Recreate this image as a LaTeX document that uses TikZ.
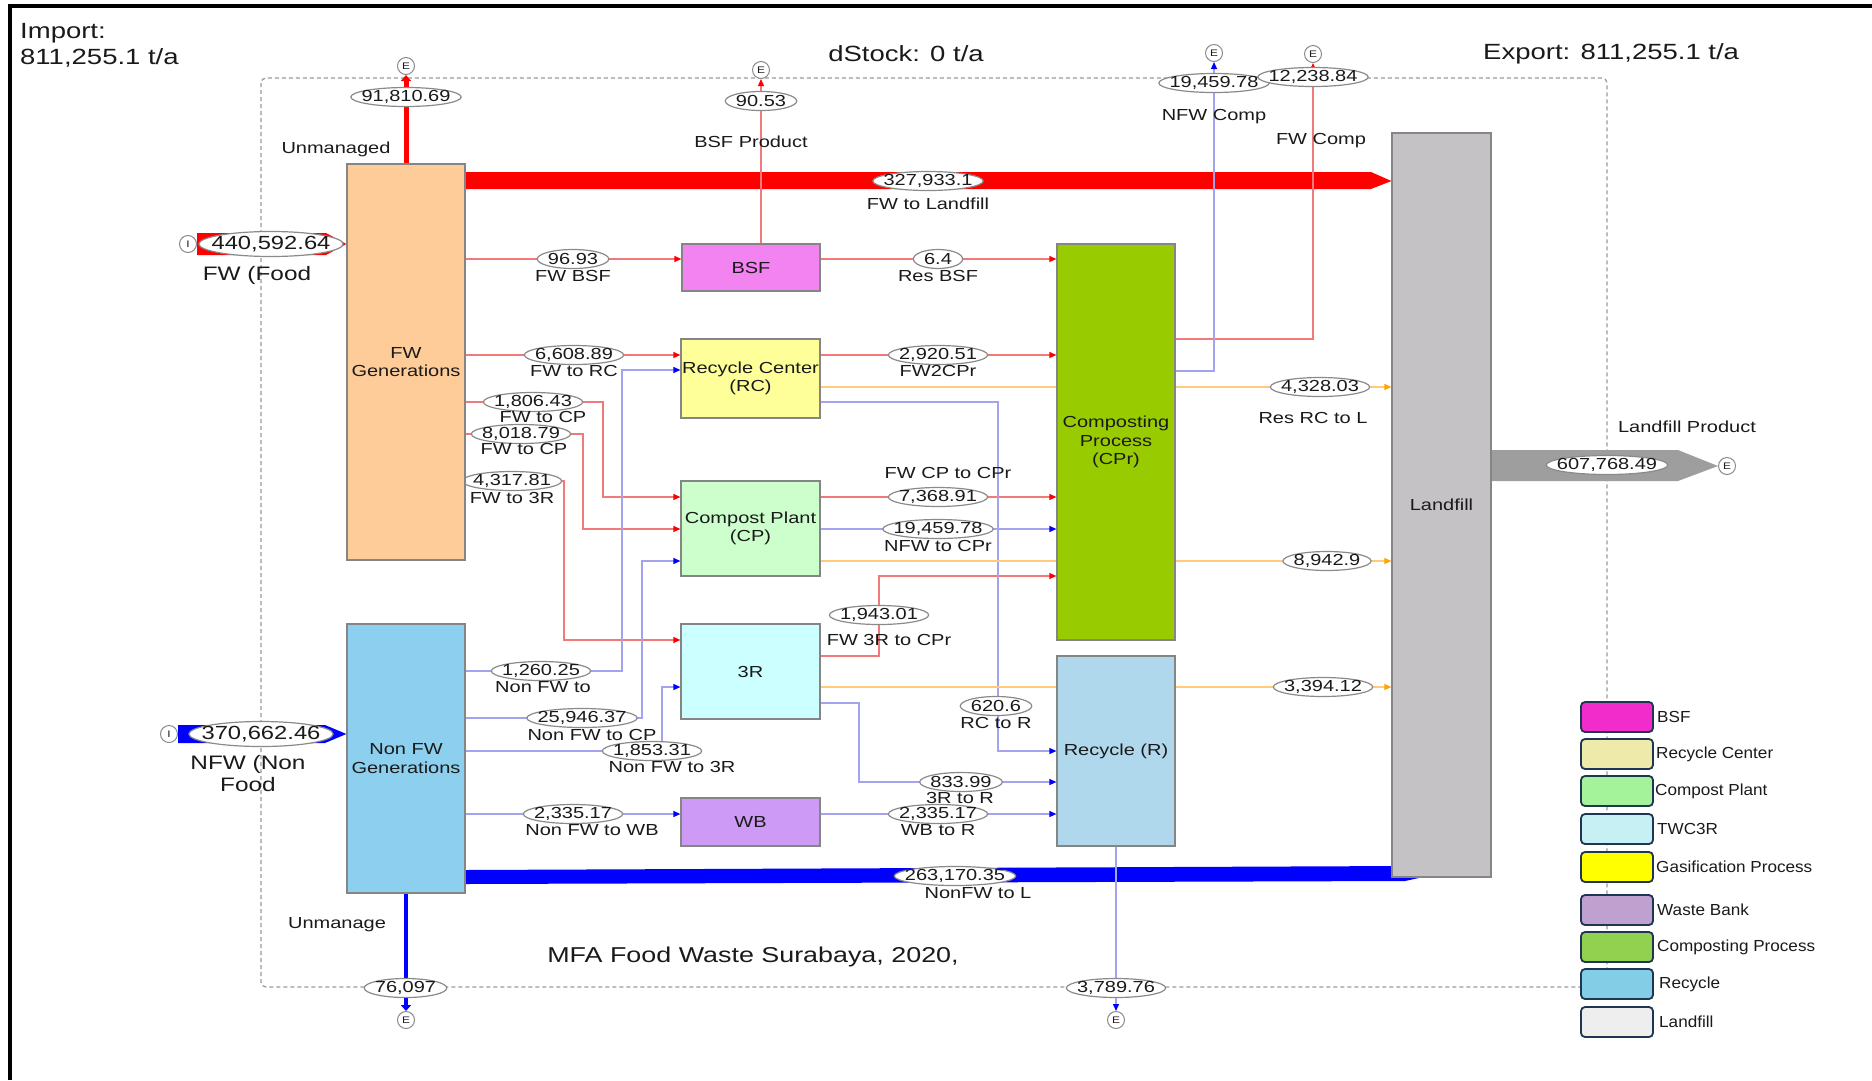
\documentclass[tikz,border=0pt]{standalone}
\usepackage{fontspec}
\setmainfont{Liberation Sans}[FakeStretch=1.25]
\newfontfamily\legfont{Liberation Sans}[FakeStretch=1.07]
\usetikzlibrary{arrows.meta,shapes.geometric,calc,backgrounds}
\pgfdeclarelayer{background}
\pgfdeclarelayer{ell}
\pgfsetlayers{background,ell,main}
\definecolor{txt}{HTML}{1A1A1A}
\definecolor{boxgray}{HTML}{858585}
\definecolor{ellgray}{HTML}{8A8A8A}
\definecolor{thinred}{HTML}{F07A7A}
\definecolor{thinblue}{HTML}{A3A3EE}
\definecolor{thinorange}{HTML}{FFCB7A}
\definecolor{orangetip}{HTML}{FFA500}
\definecolor{cfw}{HTML}{FECC99}
\definecolor{cnfw}{HTML}{8CCFEF}
\definecolor{cbsf}{HTML}{F383F0}
\definecolor{crc}{HTML}{FFFF99}
\definecolor{ccp}{HTML}{CCFFCC}
\definecolor{ctr}{HTML}{CCFFFF}
\definecolor{cwb}{HTML}{CD9BF5}
\definecolor{ccpr}{HTML}{99CC00}
\definecolor{crec}{HTML}{B0D8EC}
\definecolor{clf}{HTML}{C4C2C5}
\definecolor{cprod}{HTML}{9E9E9E}
\definecolor{bnd}{HTML}{9A9A9A}
\definecolor{legborder}{HTML}{1F3554}
\newcommand\boxfont{\fontsize{16}{18.5}\selectfont}
\newcommand\valfont{\fontsize{16}{18}\selectfont}
\newcommand\bigvalfont{\fontsize{19}{22}\selectfont}
\newcommand\lblfont{\fontsize{16}{18}\selectfont}
\newcommand\circfont{\fontsize{9.5}{10}\selectfont}
\newcommand\headfont{\fontsize{22}{25}\selectfont}
\newcommand\impfont{\fontsize{19.5}{22}\selectfont}
\newcommand\fv[3]{%
  \node[valtxt] (#1) at (#2) {#3};
  \begin{pgfonlayer}{ell}
  \path[valell] let \p1=($(#1.east)-(#1.west)$) in (#1.center) ellipse [x radius={0.5*\x1+10.5pt}, y radius=9.5pt];
  \end{pgfonlayer}}
\newcommand\fvb[3]{%
  \node[valtxt, font=\bigvalfont] (#1) at (#2) {#3};
  \begin{pgfonlayer}{ell}
  \path[valell] let \p1=($(#1.east)-(#1.west)$) in (#1.center) ellipse [x radius={0.5*\x1+12.5pt}, y radius=12.5pt];
  \end{pgfonlayer}}
\tikzset{
  box/.style={draw=boxgray, line width=1.2pt, inner sep=0pt, align=center, font=\boxfont, text=txt},
  endc/.style={circle, draw=ellgray, fill=white, line width=1pt, minimum size=17pt, inner sep=0pt, font=\circfont, text=txt},
  valell/.style={draw=ellgray, fill=white, line width=1.2pt},
  valtxt/.style={inner sep=0pt, font=\valfont, text=txt},
  lbl/.style={inner sep=0pt, font=\lblfont, text=txt, align=center},
  rl/.style={draw=thinred, line width=1.2pt, -{Triangle[length=7pt,width=6pt,color=red]}},
  bl/.style={draw=thinblue, line width=1.2pt, -{Triangle[length=7pt,width=6pt,color=blue]}},
  ol/.style={draw=thinorange, line width=1.2pt, -{Triangle[length=7pt,width=6pt,color=orangetip]}},
  legbox/.style={draw=legborder, line width=1.8pt, rounded corners=4pt, minimum width=72pt, minimum height=30pt, inner sep=0pt},
  legtxt/.style={anchor=west, inner sep=0pt, font=\legfont\fontsize{16}{18}\selectfont, text=txt},
}
\begin{document}
\begin{tikzpicture}[x=1pt,y=-1pt]
\useasboundingbox (0,0) rectangle (1872,1080);

% ---------- processes ----------
\node[box, fill=cfw, minimum width=118pt, minimum height=396pt] (fwgen) at (406,362) {FW\\Generations};
\node[box, fill=cnfw, minimum width=118pt, minimum height=269pt] (nfwgen) at (406,758.5) {Non FW\\Generations};
\node[box, fill=cbsf, minimum width=138pt, minimum height=47pt] (bsf) at (751,267.5) {BSF};
\node[box, fill=crc, minimum width=139pt, minimum height=79pt] (rc) at (750.5,378.5) {Recycle Center\\(RC)};
\node[box, fill=ccp, minimum width=139pt, minimum height=95pt] (cp) at (750.5,528.5) {Compost Plant\\(CP)};
\node[box, fill=ctr, minimum width=139pt, minimum height=95pt] (tr) at (750.5,671.5) {3R};
\node[box, fill=cwb, minimum width=139pt, minimum height=48pt] (wb) at (750.5,822) {WB};
\node[box, fill=ccpr, minimum width=118pt, minimum height=396pt] (cpr) at (1116,442) {Composting\\Process\\(CPr)};
\node[box, fill=crec, minimum width=118pt, minimum height=190pt] (rec) at (1116,751) {Recycle (R)};
\node[box, fill=clf, minimum width=99pt, minimum height=744pt] (lf) at (1441.5,505) {Landfill};

% ---------- import / export circles ----------
\node[endc] (iFW) at (188,244) {I};
\node[endc] (iNFW) at (169,734) {I};
\node[endc] (eU) at (406,66) {E};
\node[endc] (eBSF) at (761,70) {E};
\node[endc] (eNFWc) at (1214,53) {E};
\node[endc] (eFWc) at (1313,54) {E};
\node[endc] (eU2) at (406,1020) {E};
\node[endc] (eR) at (1116,1020) {E};
\node[endc] (eLP) at (1727,466) {E};

% ---------- bend coordinates ----------
\coordinate (b1806) at (603,497);
\coordinate (b8018) at (583,529);
\coordinate (b4317) at (564,640);
\coordinate (b1260) at (622,370);
\coordinate (b25946) at (642,561);
\coordinate (b1853) at (662,687);
\coordinate (b620a) at (998,402);
\coordinate (b620b) at (998,751);
\coordinate (b833a) at (859,703);
\coordinate (b1943a) at (879,656);
\coordinate (b1943b) at (879,576);
\coordinate (bFWc) at (1313,339);
\coordinate (bNFWc) at (1214,371);

% ---------- flow values (ellipses) ----------
\fv{v91}{406,97}{91,810.69}
\fv{v9053}{761,101}{90.53}
\fv{v19459c}{1214,83}{19,459.78}
\fv{v12238}{1313,77}{12,238.84}
\fv{v9693}{573,259}{96.93}
\fv{v64}{938,259}{6.4}
\fv{v6608}{574,355}{6,608.89}
\fv{v2920}{938,355}{2,920.51}
\fv{v4328}{1320,387}{4,328.03}
\fv{v1806}{533,402}{1,806.43}
\fv{v8018}{521,434}{8,018.79}
\fv{v4317}{512,481}{4,317.81}
\fv{v7368}{938,497}{7,368.91}
\fv{v19459}{938,529}{19,459.78}
\fv{v8942}{1327,561}{8,942.9}
\fv{v1943}{879,615}{1,943.01}
\fv{v1260}{541,671}{1,260.25}
\fv{v3394}{1323,687}{3,394.12}
\fv{v620}{996,706}{620.6}
\fv{v25946}{582,718}{25,946.37}
\fv{v1853}{652,751}{1,853.31}
\fv{v833}{961,782}{833.99}
\fv{v2335a}{573,814}{2,335.17}
\fv{v2335b}{938,814}{2,335.17}
\fv{v263}{955,876}{263,170.35}
\fv{v76}{405.5,988}{76,097}
\fv{v3789}{1116,988}{3,789.76}
\fv{v327}{928,181}{327,933.1}
\fv{v607}{1607,465}{607,768.49}
\fvb{v440}{271,244}{440,592.64}
\fvb{v370}{261,734}{370,662.46}

% ---------- flow names ----------
\node[lbl] (lUnm) at (336,149) {Unmanaged};
\node[lbl] (lBSFp) at (751,142) {BSF Product};
\node[lbl] (lNFWc) at (1214,117) {NFW Comp};
\node[lbl] (lFWc) at (1321,141) {FW Comp};
\node[lbl] (lFWL) at (928,204) {FW to Landfill};
\node[lbl] (lFWBSF) at (573,276) {FW BSF};
\node[lbl] (lResBSF) at (938,276) {Res BSF};
\node[lbl] (lFWRC) at (574,371) {FW to RC};
\node[lbl] (lFW2CPr) at (938,371) {FW2CPr};
\node[lbl] (lResRC) at (1313,418) {Res RC to L};
\node[lbl] (lFWCPa) at (543,417) {FW to CP};
\node[lbl] (lFWCPb) at (524,449) {FW to CP};
\node[lbl] (lFW3R) at (512,498) {FW to 3R};
\node[lbl] (lFWCPCPr) at (948,473) {FW CP to CPr};
\node[lbl] (lNFWCPr) at (938,546) {NFW to CPr};
\node[lbl] (lFW3RCPr) at (889,640) {FW 3R to CPr};
\node[lbl] (lNFWto) at (543,687) {Non FW to};
\node[lbl] (lRCR) at (996,723) {RC to R};
\node[lbl] (lNFWCP) at (592,735) {Non FW to CP};
\node[lbl] (lNFW3R) at (672,767) {Non FW to 3R};
\node[lbl] (l3RR) at (960,798) {3R to R};
\node[lbl] (lNFWWB) at (592,830) {Non FW to WB};
\node[lbl] (lWBR) at (938,830) {WB to R};
\node[lbl] (lNFWL) at (978,893) {NonFW to L};
\node[lbl] (lUnm2) at (337,925) {Unmanage};
\node[lbl] (lLP) at (1687,427) {Landfill Product};
\node[lbl, font=\impfont] (lFood) at (257,275) {FW (Food};
\node[lbl, font=\impfont] (lNFood) at (248,774) {NFW (Non\\Food};

% ---------- headings ----------
\node[anchor=west, inner sep=0pt, font=\headfont, text=txt] (imp1) at (20,33) {Import:};
\node[anchor=west, inner sep=0pt, font=\headfont, text=txt] (imp2) at (20,58) {811,255.1 t/a};
\node[inner sep=0pt, font=\headfont, text=txt] (dst) at (906,54) {dStock: 0 t/a};
\node[anchor=west, inner sep=0pt, font=\headfont, text=txt] (exp) at (1483,54) {Export: 811,255.1 t/a};
\node[inner sep=0pt, font=\fontsize{21.5}{24}\selectfont, text=txt] (title) at (753,957) {MFA Food Waste Surabaya, 2020,};

% ---------- legend ----------
\node[legbox, fill={rgb,255:red,242;green,43;blue,203}] (g1) at (1617,717) {};
\node[legtxt] (t1) at (1657,717) {BSF};
\node[legbox, fill={rgb,255:red,238;green,235;blue,170}] (g2) at (1617,754) {};
\node[legtxt] (t2) at (1656,754) {Recycle Center};
\node[legbox, fill={rgb,255:red,164;green,242;blue,154}] (g3) at (1617,791) {};
\node[legtxt] (t3) at (1655,791) {Compost Plant};
\node[legbox, fill={rgb,255:red,198;green,240;blue,244}] (g4) at (1617,829) {};
\node[legtxt] (t4) at (1657,829) {TWC3R};
\node[legbox, fill={rgb,255:red,255;green,255;blue,0}] (g5) at (1617,867) {};
\node[legtxt] (t5) at (1656,867) {Gasification Process};
\node[legbox, fill={rgb,255:red,191;green,160;blue,206}] (g6) at (1617,910) {};
\node[legtxt] (t6) at (1657,910) {Waste Bank};
\node[legbox, fill={rgb,255:red,146;green,208;blue,80}] (g7) at (1617,947) {};
\node[legtxt] (t7) at (1657,947) {Composting Process};
\node[legbox, fill={rgb,255:red,132;green,205;blue,230}] (g8) at (1617,984) {};
\node[legtxt] (t8) at (1659,984) {Recycle};
\node[legbox, fill={rgb,255:red,238;green,238;blue,238}] (g9) at (1617,1022) {};
\node[legtxt] (t9) at (1659,1022) {Landfill};

% ---------- background: frame, boundary, flows ----------
\begin{pgfonlayer}{background}
\fill[white] (0,0) rectangle (1872,1080);
\draw[line width=3.5pt, black] (10,1080) -- (10,6) -- (1872,6);
\draw[bnd, line width=1.3pt, dash pattern=on 4pt off 3pt, rounded corners=5pt] (261,78) rectangle (1607,987);

% thick bands
\fill[red] (iFW.east |- 0,233) -- (326,233) -- (fwgen.west |- iFW) -- (326,255) -- (iFW.east |- 0,255) -- cycle;
\fill[blue] (iNFW.east |- 0,725) -- (325,725) -- (nfwgen.west |- iNFW) -- (325,743) -- (iNFW.east |- 0,743) -- cycle;
\fill[red] (fwgen.east |- 0,172) -- (1371,172) -- (lf.west |- v327) -- (1371,189) -- (fwgen.east |- 0,189) -- cycle;
\fill[blue] (nfwgen.east |- 0,870) -- (1405,866) -- (1437,874) -- (1405,881) -- (nfwgen.east |- 0,884) -- cycle;
\fill[cprod] (lf.east |- 0,450) -- (1678,450) -- (eLP.west) -- (1678,481) -- (lf.east |- 0,481) -- cycle;
\draw[red, line width=5pt, -{Triangle[length=6pt,width=10pt]}] (fwgen.north) -- (eU.south);
\draw[blue, line width=4.5pt, -{Triangle[length=6pt,width=10pt]}] (nfwgen.south) -- (eU2.north);

% thin red flows
\draw[rl] (eBSF |- bsf.north) -- (eBSF.south);
\draw[rl] (fwgen.east |- v9693) -- (bsf.west |- v9693);
\draw[rl] (bsf.east |- v64) -- (cpr.west |- v64);
\draw[rl] (fwgen.east |- v6608) -- (rc.west |- v6608);
\draw[rl] (rc.east |- v2920) -- (cpr.west |- v2920);
\draw[rl] (fwgen.east |- v1806) -| (b1806) -- (cp.west |- b1806);
\draw[rl] (fwgen.east |- v8018) -| (b8018) -- (cp.west |- b8018);
\draw[rl] (fwgen.east |- v4317) -| (b4317) -- (tr.west |- b4317);
\draw[rl] (cp.east |- v7368) -- (cpr.west |- v7368);
\draw[rl] (tr.east |- b1943a) -- (b1943a) -- (b1943b) -- (cpr.west |- b1943b);
\draw[rl] (cpr.east |- bFWc) -- (bFWc) -- (eFWc.south);

% thin blue flows
\draw[bl] (nfwgen.east |- v1260) -| (b1260) -- (rc.west |- b1260);
\draw[bl] (nfwgen.east |- v25946) -| (b25946) -- (cp.west |- b25946);
\draw[bl] (nfwgen.east |- v1853) -| (b1853) -- (tr.west |- b1853);
\draw[bl] (nfwgen.east |- v2335a) -- (wb.west |- v2335a);
\draw[bl] (wb.east |- v2335b) -- (rec.west |- v2335b);
\draw[bl] (tr.east |- b833a) -- (b833a) |- (rec.west |- v833);
\draw[bl] (rc.east |- b620a) -- (b620a) -- (b620b) -- (rec.west |- b620b);
\draw[bl] (cp.east |- v19459) -- (cpr.west |- v19459);
\draw[bl] (cpr.east |- bNFWc) -- (bNFWc) -- (eNFWc.south);
\draw[bl] (eR |- rec.south) -- (eR.north);

% thin orange flows
\draw[ol] (rc.east |- v4328) -- (lf.west |- v4328);
\draw[ol] (cp.east |- v8942) -- (lf.west |- v8942);
\draw[ol] (tr.east |- v3394) -- (lf.west |- v3394);
\end{pgfonlayer}
\end{tikzpicture}
\end{document}
